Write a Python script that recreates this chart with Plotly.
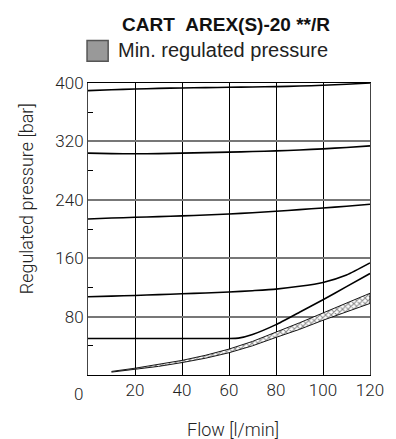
import plotly.graph_objects as go

flow = [0, 10, 20, 30, 40, 50, 60, 70, 80, 90, 100, 110, 120]
curve1 = [389.6, 390.8, 391.8, 392.6, 393.2, 393.7, 394.1, 394.6, 395.0, 395.8, 396.9, 398.2, 400.0]
curve2 = [304.0, 303.3, 303.0, 303.3, 304.0, 304.6, 305.3, 306.1, 307.0, 308.3, 309.8, 311.7, 313.9]
curve3 = [213.8, 215.0, 216.0, 217.0, 218.0, 219.2, 220.6, 222.3, 224.3, 226.5, 228.8, 231.2, 233.9]
curve4 = [107.2, 108.1, 109.0, 110.1, 111.3, 112.4, 113.6, 115.5, 117.7, 121.5, 126.8, 137.0, 153.5]

flow5 = [0, 10, 20, 30, 40, 50, 60, 64, 70, 80, 90, 100, 110, 120]
curve5 = [50.0, 50.0, 50.0, 50.0, 50.0, 50.0, 50.0, 50.5, 55.5, 69.0, 86.0, 103.0, 121.0, 139.0]

band_flow = [10, 20, 30, 40, 50, 60, 70, 80, 90, 100, 110, 120]
band_low = [3.9, 7.7, 11.8, 17.0, 23.0, 30.5, 40.0, 51.5, 62.5, 75.0, 86.0, 98.0]
band_high = [4.9, 9.3, 14.2, 20.0, 27.0, 35.5, 46.0, 58.5, 71.5, 85.0, 98.0, 112.0]

ytick_vals = [80, 160, 240, 320, 400]
xtick_vals = [20, 40, 60, 80, 100, 120]
legend_label = "Min. regulated pressure"
title_text = "CART\u00a0\u00a0AREX(S)-20 **/R"

LIGHT = "Roboto"
fig = go.Figure()

for ys in [curve1, curve2, curve3, curve4]:
    fig.add_trace(go.Scatter(x=flow, y=ys, mode="lines", line=dict(color="black", width=1.6, shape="spline", smoothing=0.6),
                             showlegend=False, hoverinfo="skip"))
fig.add_trace(go.Scatter(x=flow5, y=curve5, mode="lines", line=dict(color="black", width=1.6, shape="spline", smoothing=0.5),
                         showlegend=False, hoverinfo="skip"))

fig.add_trace(go.Scatter(x=band_flow + band_flow[::-1], y=band_low + band_high[::-1], mode="lines", fill="toself",
                         fillcolor="white", name=legend_label,
                         fillpattern=dict(shape="x", size=4, solidity=0.45, fgcolor="#111111", bgcolor="white"),
                         line=dict(color="#000000", width=0.9), showlegend=False, hoverinfo="skip"))

fig.update_layout(
    width=396, height=439,
    margin=dict(l=88, r=14, t=83, b=64),
    plot_bgcolor="white", paper_bgcolor="white",
    title=dict(text=title_text, x=226 / 396, xref="container", xanchor="center",
               y=1 - 24 / 439, yref="container", yanchor="middle",
               font=dict(family="Liberation Sans", size=19, color="#111111", weight="bold")),
    showlegend=False,
    font=dict(family=LIGHT, color="#222222"),
)

# legend key (square + label)
fig.add_shape(type="rect", xref="paper", yref="paper",
              x0=(87 - 88) / 293.7, x1=(109 - 88) / 293.7,
              y0=(375.5 - 61) / 292.8, y1=(375.5 - 40) / 292.8,
              fillcolor="#999999", line=dict(color="#555555", width=1.5))
fig.add_annotation(text=legend_label, x=(117 - 88) / 293.7, y=(375.5 - 50) / 292.8, xref="paper", yref="paper",
                   xanchor="left", yanchor="middle", showarrow=False,
                   font=dict(family="Liberation Sans", size=20, color="#222222"))

fig.update_xaxes(range=[0, 120], tickvals=xtick_vals, ticks="", showgrid=True, gridcolor="black", gridwidth=1,
                 showline=True, linecolor="black", linewidth=1, mirror=True, zeroline=False,
                 ticklabeloverflow="allow",
                 tickfont=dict(family=LIGHT, size=17, weight=300, color="#222222"))
fig.update_yaxes(range=[0, 400], tickvals=ytick_vals, ticks="", showgrid=True, gridcolor="#777777", gridwidth=1.5,
                 showline=True, linecolor="#444444", linewidth=1, mirror=True, zeroline=False,
                 tickfont=dict(family=LIGHT, size=17, weight=300, color="#222222"),
                 minor=dict(tickvals=[40, 120, 200, 280, 360], ticks="inside", ticklen=5, tickcolor="black", showgrid=False))

fig.add_annotation(text="0", x=0, y=0, xref="x", yref="y", xanchor="center", yanchor="top", xshift=-10, yshift=-7,
                   showarrow=False, font=dict(family=LIGHT, size=17, weight=300, color="#222222"))
fig.add_annotation(text="Regulated pressure [bar]", x=-0.215, y=0.603, xref="paper", yref="paper", textangle=-90,
                   xanchor="center", yanchor="middle", showarrow=False,
                   font=dict(family=LIGHT, size=18, weight=300, color="#222222"))
fig.add_annotation(text="Flow [l/min]", x=0.515, y=-0.186, xref="paper", yref="paper",
                   xanchor="center", yanchor="middle", showarrow=False,
                   font=dict(family=LIGHT, size=18, weight=300, color="#222222"))

fig.write_html("out.html")
